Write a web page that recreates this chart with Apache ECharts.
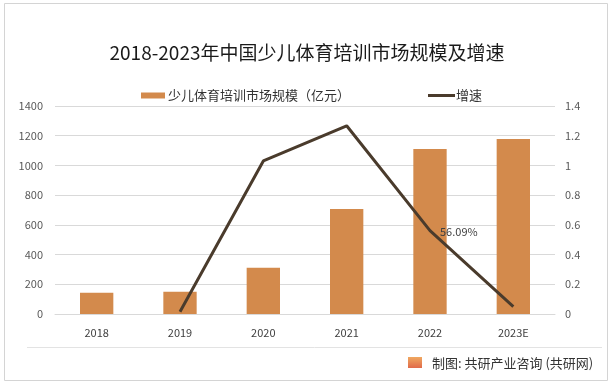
<!DOCTYPE html>
<html>
<head>
<meta charset="utf-8">
<script src="https://cdn.jsdelivr.net/npm/echarts@6/dist/echarts.min.js"></script>
<style>html,body{margin:0;padding:0;background:#fff}#c{width:614px;height:385px}</style>
</head>
<body>
<div id="c"></div>
<script>
var categories = ['2018', '2019', '2020', '2021', '2022', '2023E'];
var marketSize = [143, 150, 312, 707, 1110, 1178];
var growth = [null, 0.015, 1.03, 1.267, 0.5609, 0.049];
var leftTicks = [0, 200, 400, 600, 800, 1000, 1200, 1400];
var rightTicks = [0, 0.2, 0.4, 0.6, 0.8, 1, 1.2, 1.4];
var title = '2018-2023年中国少儿体育培训市场规模及增速';
var barName = '少儿体育培训市场规模（亿元）';
var lineName = '增速';
var labelIndex = 4;
var labelText = '56.09%';
var source = '制图: 共研产业咨询 (共研网)';

var FONT = '"Noto Sans CJK SC", "Noto Sans", sans-serif';
var chart = echarts.init(document.getElementById('c'));
var lineData = growth.map(function (v, i) {
  if (i === labelIndex) {
    return { value: v, label: { show: true, position: 'right', formatter: labelText, color: '#404040', fontSize: 11, fontFamily: FONT, distance: 10, offset: [0, 1] } };
  }
  return v;
});
chart.setOption({
  backgroundColor: '#fff',
  textStyle: { fontFamily: FONT },
  title: {
    text: title, left: 'center', top: 38,
    textStyle: { fontSize: 19, fontWeight: 'normal', color: '#1a1a1a', fontFamily: FONT }
  },
  legend: [{
    left: 136, top: 84, itemWidth: 24, itemHeight: 6, itemGap: 4,
    data: [{ name: barName, icon: 'rect' }],
    textStyle: { fontSize: 13, color: '#333', fontFamily: FONT, padding: [0, 0, 0, -2] }
  }, {
    left: 423, top: 84, itemWidth: 27, itemHeight: 3, itemGap: 4,
    data: [{ name: lineName, icon: 'rect' }],
    textStyle: { fontSize: 13, color: '#333', fontFamily: FONT, padding: [0, 0, 0, -4] }
  }],
  grid: { left: 55, right: 59, top: 106, bottom: 71, containLabel: false },
  xAxis: {
    type: 'category', data: categories,
    axisLine: { show: true, lineStyle: { color: '#d9d9d9' } },
    axisTick: { show: false },
    axisLabel: { color: '#404040', fontSize: 11, margin: 13, fontFamily: FONT }
  },
  yAxis: [{
    type: 'value', min: 0, max: 1400, interval: 200,
    axisLine: { show: false }, axisTick: { show: false },
    splitLine: { lineStyle: { color: '#d9d9d9' } },
    axisLabel: { color: '#595959', fontSize: 11, margin: 12, fontFamily: FONT,
      formatter: function (v) { return String(v); } }
  }, {
    type: 'value', min: 0, max: 1.4, interval: 0.2,
    axisLine: { show: false }, axisTick: { show: false },
    splitLine: { show: false },
    axisLabel: { color: '#595959', fontSize: 11, margin: 10, fontFamily: FONT,
      formatter: function (v) { return String(+v.toFixed(1)); } }
  }],
  series: [{
    name: barName, type: 'bar', data: marketSize, barWidth: '40%',
    itemStyle: { color: '#D38A4C' }
  }, {
    name: lineName, type: 'line', yAxisIndex: 1, data: lineData,
    showSymbol: true, symbol: 'circle', symbolSize: 0.01,
    lineStyle: { color: '#4a3b2c', width: 3 },
    itemStyle: { color: '#4a3b2c' }
  }],
  graphic: [
    { type: 'rect', shape: { x: 4.5, y: 3.5, width: 603, height: 377 }, style: { fill: 'none', stroke: '#d4d4d4', lineWidth: 1 }, silent: true },
    { type: 'line', shape: { x1: 27, y1: 347.5, x2: 602, y2: 347.5 }, style: { stroke: '#e3e3e3', lineWidth: 1 }, silent: true },
    { type: 'rect', shape: { x: 408, y: 357, width: 14, height: 11 },
      style: { fill: new echarts.graphic.LinearGradient(0, 0, 0, 1, [{ offset: 0, color: '#f0a860' }, { offset: 1, color: '#e06a4a' }]) }, silent: true },
    { type: 'text', x: 432, y: 363, style: { text: source, fontSize: 13, fill: '#333', fontFamily: FONT, verticalAlign: 'middle' }, silent: true }
  ]
});
</script>
</body>
</html>
